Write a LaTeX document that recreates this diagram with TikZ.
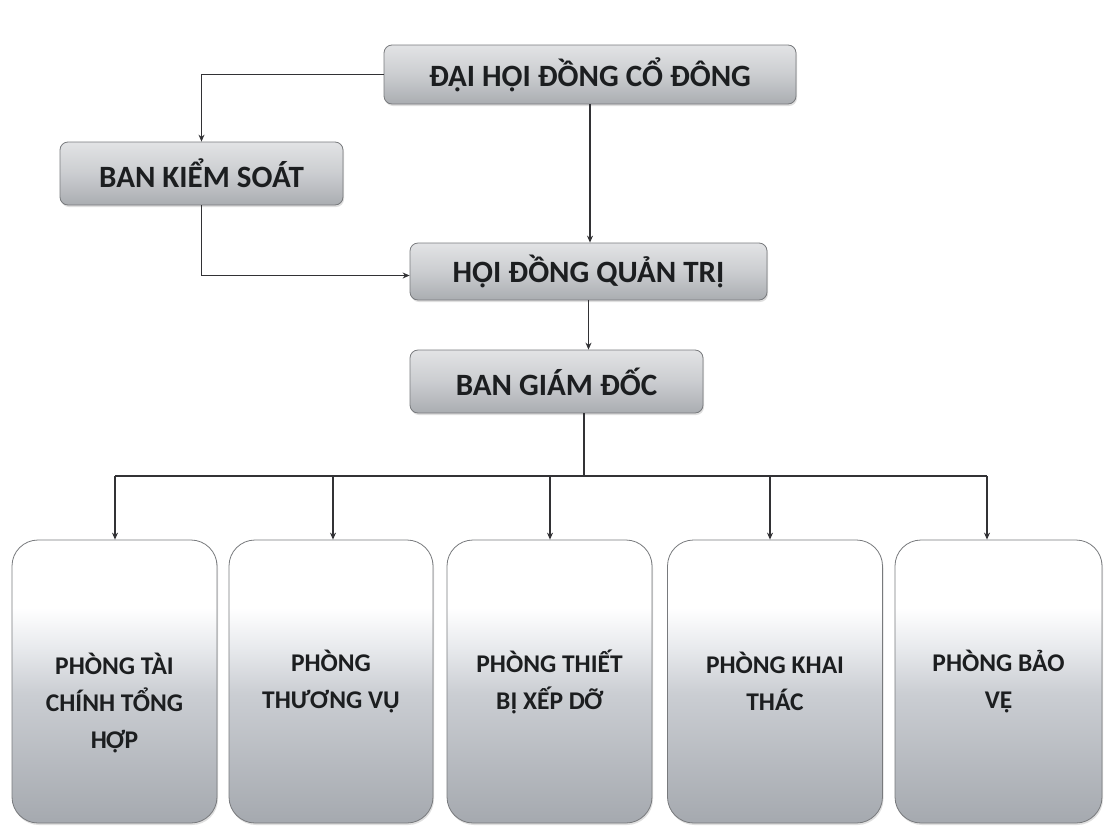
\documentclass[tikz,border=0pt]{standalone}
\usepackage{fontspec}
\setmainfont{Carlito}
\usetikzlibrary{arrows.meta,shadows}
\definecolor{txt}{RGB}{28,30,32}
\definecolor{lnc}{RGB}{50,50,53}
\definecolor{edge}{RGB}{120,122,125}
\definecolor{pbot}{RGB}{165,169,175}
\definecolor{pmid}{RGB}{203,206,211}
\definecolor{plight}{RGB}{232,234,237}
\definecolor{tbtop}{RGB}{226,227,229}
\definecolor{tbmid}{RGB}{203,205,208}
\definecolor{tbbot}{RGB}{170,173,177}
\pgfdeclareverticalshading{pboxshade}{100bp}{color(0bp)=(pbot); color(25bp)=(pbot); color(48bp)=(pmid); color(56bp)=(plight); color(63bp)=(white); color(100bp)=(white)}
\pgfdeclareverticalshading{topshade}{100bp}{color(0bp)=(tbbot); color(25bp)=(tbbot); color(50bp)=(tbmid); color(75bp)=(tbtop); color(100bp)=(tbtop)}
\tikzset{
  topbox/.style={draw=edge, line width=0.8pt, rounded corners=8pt, shading=topshade,
    drop shadow={opacity=0.25, shadow xshift=1pt, shadow yshift=-2pt},
    font=\fontsize{31}{36}\selectfont\bfseries, text=txt, inner sep=0pt},
  dept/.style={draw=edge, line width=0.8pt, rounded corners=26pt, shading=pboxshade,
    drop shadow={opacity=0.25, shadow xshift=1pt, shadow yshift=-2pt},
    minimum height=283pt, inner sep=0pt},
  depttext/.style={font=\fontsize{25.5}{37}\selectfont\bfseries, text=txt, align=center, inner sep=0pt},
  conn/.style={draw=lnc, line width=1.1pt, -{Stealth[length=7pt,width=6pt]}},
  busline/.style={draw=lnc, line width=1.1pt}
}
\begin{document}
\begin{tikzpicture}[x=1pt,y=-1pt]
\useasboundingbox[fill=white] (0,0) rectangle (1105,833);

% upper boxes
\node[topbox, minimum width=412pt, minimum height=59pt] (dh) at (590,74.5) {ĐẠI HỘI ĐỒNG CỔ ĐÔNG};
\node[topbox, minimum width=283pt, minimum height=63pt] (bks) at (201.5,173.5) {BAN KIỂM SOÁT};
\node[topbox, minimum width=357pt, minimum height=57pt] (hd) at (588.5,271.5) {HỘI ĐỒNG QUẢN TRỊ};
\node[topbox, minimum width=293pt, minimum height=63pt] (bgd) at (556.5,381.5) {BAN GIÁM ĐỐC};

% departments
\node[dept, minimum width=205pt] (p1) at (114.5,681.5) {};
\node[dept, minimum width=204pt] (p2) at (331,681.5) {};
\node[dept, minimum width=205pt] (p3) at (549.5,681.5) {};
\node[dept, minimum width=215pt] (p4) at (775,681.5) {};
\node[dept, minimum width=207pt] (p5) at (998.5,681.5) {};

\node[depttext] (p1t) at ([yshift=-22pt]p1.center) {PHÒNG TÀI\\CHÍNH TỔNG\\HỢP};
\node[depttext] (p2t) at (p2.center) {PHÒNG\\THƯƠNG VỤ};
\node[depttext] (p3t) at (p3.center) {PHÒNG THIẾT\\BỊ XẾP DỠ};
\node[depttext] (p4t) at (p4.center) {PHÒNG KHAI\\THÁC};
\node[depttext] (p5t) at (p5.center) {PHÒNG BẢO\\VỆ};

% connectors
\draw[conn] (dh.west) -| (bks.north);
\draw[conn] (dh.south) -- (dh.south |- hd.north);
\draw[conn] (bks.south) |- ([yshift=-4pt]hd.west);
\draw[conn] (hd.south) -- (hd.south |- bgd.north);

\coordinate (busc) at (584,476);
\coordinate (a1) at (115,476);
\coordinate (a2) at (333,476);
\coordinate (a3) at (550,476);
\coordinate (a4) at (770,476);
\coordinate (a5) at (987,476);
\draw[busline] (busc |- bgd.south) -- (busc);
\draw[busline] (a1) -- (a5);
\foreach \i in {1,...,5}{
  \draw[conn] (a\i) -- (a\i |- p\i.north);
}
\end{tikzpicture}
\end{document}
